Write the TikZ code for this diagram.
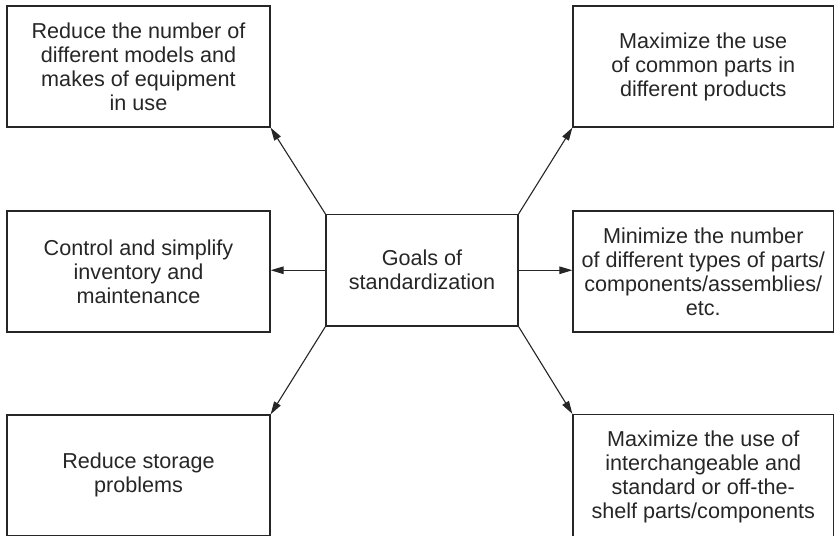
\documentclass[tikz,border=0pt]{standalone}
\usepackage{fontspec}
\setmainfont{Liberation Sans}
\usetikzlibrary{arrows.meta}
\definecolor{ink}{HTML}{262626}
\tikzset{
  box/.style={draw=ink, line width=1.2pt, inner sep=0pt, align=center, text=ink,
    font=\fontsize{21.6}{24}\selectfont},
  arr/.style={draw=ink, line width=1.1pt, -{Triangle[length=13pt,width=7.5pt]}}
}
\begin{document}
\begin{tikzpicture}[x=1pt,y=-1pt]
\useasboundingbox (0,0) rectangle (834,535);
\node[box, minimum width=263pt, minimum height=121pt] (tl) at (138.5,66.5)
  {Reduce the number of\\different models and\\makes of equipment\\in use};
\node[box, minimum width=260.5pt, minimum height=121pt] (tr) at (703.25,66.5)
  {Maximize the use\\of common parts in\\different products};
\node[box, minimum width=263pt, minimum height=121pt] (ml) at (138.5,271.5)
  {Control and simplify\\inventory and\\maintenance};
\node[box, minimum width=192pt, minimum height=111.5pt] (c) at (422,270.25)
  {Goals of\\standardization};
\node[box, minimum width=260.5pt, minimum height=121pt] (mr) at (703.25,271.5)
  {Minimize the number\\of different types of parts/\\components/assemblies/\\etc.};
\node[box, minimum width=263pt, minimum height=120.5pt] (bl) at (138.5,475.25)
  {Reduce storage\\problems};
\node[box, minimum width=260.5pt, minimum height=125.5pt] (br) at (703.25,477.25)
  {Maximize the use of\\interchangeable and\\standard or off-the-\\shelf parts/components};
\draw[arr] (c.north west) -- (tl.south east);
\draw[arr] (c.north east) -- (tr.south west);
\draw[arr] (c.south west) -- (bl.north east);
\draw[arr] (c.south east) -- (br.north west);
\draw[arr] (c.west) -- (c.west -| ml.east);
\draw[arr] (c.east) -- (c.east -| mr.west);
\end{tikzpicture}
\end{document}
